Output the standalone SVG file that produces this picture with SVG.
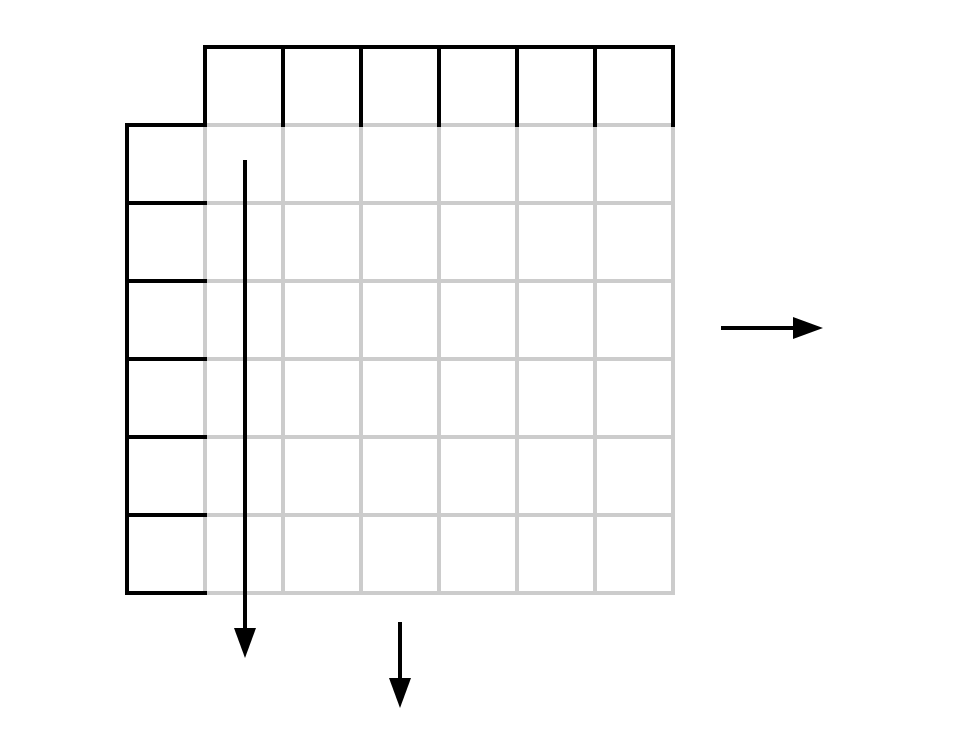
<svg xmlns="http://www.w3.org/2000/svg" width="960" height="731" viewBox="0 0 960 731">
<style>
.grey{stroke:#cccccc;stroke-width:4;fill:none;stroke-linecap:square}
.blk{stroke:#000;stroke-width:4;fill:none;stroke-linecap:square;stroke-linejoin:miter}
.arr{stroke:#000;stroke-width:4;fill:none}
.head{fill:#000}
</style>
<rect width="960" height="731" fill="#fff"/>
<g id="grid" class="grey">
<path d="M205 125H673M205 203H673M205 281H673M205 359H673M205 437H673M205 515H673M205 593H673"/>
<path d="M205 125V593M283 125V593M361 125V593M439 125V593M517 125V593M595 125V593M673 125V593"/>
</g>
<g id="top-row" class="blk">
<path d="M205 125V47H673V125"/>
<path d="M283 47V125M361 47V125M439 47V125M517 47V125M595 47V125"/>
</g>
<g id="left-column" class="blk">
<path d="M205 125H127V593H205"/>
<path d="M127 203H205M127 281H205M127 359H205M127 437H205M127 515H205"/>
</g>
<g id="connectors">
<path class="arr" d="M245 160V630"/>
<polygon class="head" points="234,628 256,628 245,658"/>
<path class="arr" d="M400 622V680"/>
<polygon class="head" points="389,678 411,678 400,708"/>
<path class="arr" d="M721 328H795"/>
<polygon class="head" points="793,317 793,339 823,328"/>
</g>
</svg>
